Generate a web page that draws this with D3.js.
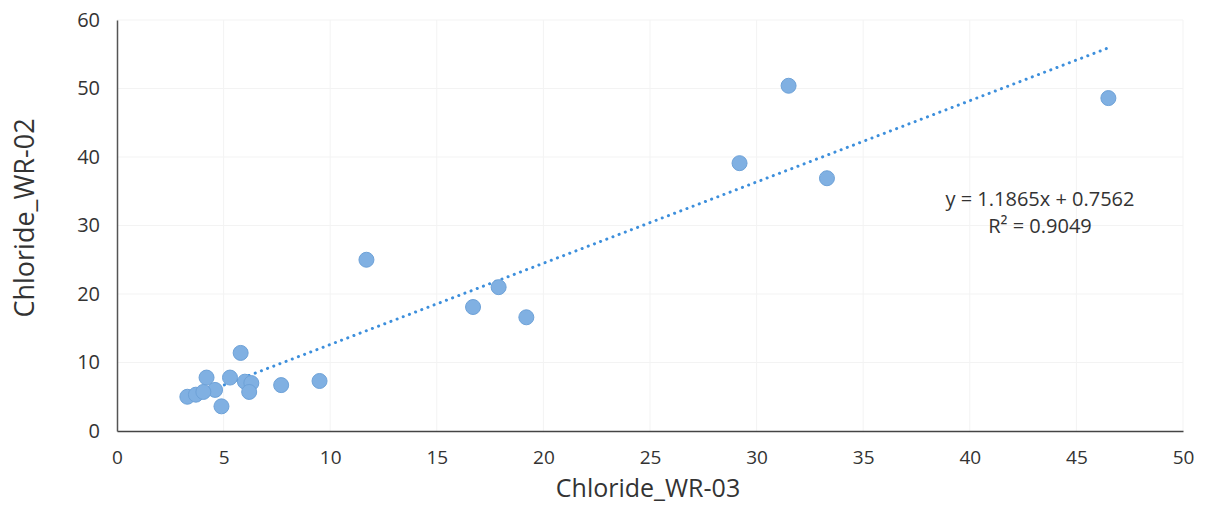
<!DOCTYPE html>
<html>
<head>
<meta charset="utf-8">
<script src="https://cdn.jsdelivr.net/npm/d3@7"></script>
<style>
  body { margin: 0; background: #fff; }
  text { font-family: "Open Sans", "Noto Sans", sans-serif; fill: #333; }
</style>
</head>
<body>
<svg id="chart" width="1209" height="508"></svg>
<script>
// Chloride WR-03 (x) vs WR-02 (y)
let xValues = [46.5, 31.5, 29.2, 33.3, 11.7, 17.9, 16.7, 19.2, 5.8, 4.2, 5.3, 6.0, 6.3, 6.2, 7.7, 9.5, 4.6, 4.9, 3.3, 3.7, 4.05]
let yValues = [48.6, 50.4, 39.1, 36.9, 25.0, 21.0, 18.1, 16.6, 11.4, 7.8, 7.8, 7.2, 7.0, 5.7, 6.7, 7.3, 6.0, 3.6, 5.0, 5.3, 5.7]
let xTicks = [0, 5, 10, 15, 20, 25, 30, 35, 40, 45, 50]
let yTicks = [0, 10, 20, 30, 40, 50, 60]
let slope = 1.1865
let intercept = 0.7562
let eqLabel = "y = 1.1865x + 0.7562"
let r2Label = "R² = 0.9049"

let svg = d3.select("#chart")
let margin = { top: 20, right: 26, bottom: 77, left: 117 }
let width = +svg.attr("width") - margin.left - margin.right
let height = +svg.attr("height") - margin.top - margin.bottom

let points = xValues.map((x, i) => ({ x: x, y: yValues[i] }))

let xScale = d3.scaleLinear().domain([0, 50]).range([0, width])
let yScale = d3.scaleLinear().domain([0, 60]).range([height, 0])

let g = svg.append("g")
    .attr("transform", "translate(" + margin.left + "," + margin.top + ")")

// faint gridlines
g.append("g")
    .selectAll("line.h")
    .data(yTicks.slice(1))
    .enter().append("line")
      .attr("x1", 0).attr("x2", width)
      .attr("y1", d => yScale(d)).attr("y2", d => yScale(d))
      .style("stroke", "#f3f3f3")
g.append("g")
    .selectAll("line.v")
    .data(xTicks.slice(1))
    .enter().append("line")
      .attr("x1", d => xScale(d)).attr("x2", d => xScale(d))
      .attr("y1", 0).attr("y2", height)
      .style("stroke", "#f3f3f3")

let xAxis = d3.axisBottom(xScale).tickValues(xTicks).tickSize(0).tickPadding(20)
let yAxis = d3.axisLeft(yScale).tickValues(yTicks).tickSize(0).tickPadding(17)

let gX = g.append("g")
    .attr("transform", "translate(0," + height + ")")
    .call(xAxis)
gX.select(".domain").style("stroke", "#444").style("stroke-width", 1.5)
gX.selectAll("text").style("font-size", "19px").style("fill", "#333")

let gY = g.append("g").call(yAxis)
gY.select(".domain").style("stroke", "#555").style("stroke-width", 1.5)
gY.selectAll("text").style("font-size", "20px").style("fill", "#333")

// trendline
let xMin = d3.min(xValues)
let xMax = d3.max(xValues)
g.append("line")
    .attr("x1", xScale(xMin)).attr("y1", yScale(slope * xMin + intercept))
    .attr("x2", xScale(xMax)).attr("y2", yScale(slope * xMax + intercept))
    .style("stroke", "#3d8fdc")
    .style("stroke-width", 3)
    .style("stroke-dasharray", "0.1,6.5")
    .style("stroke-linecap", "round")

g.selectAll("circle")
    .data(points)
    .enter().append("circle")
      .attr("cx", d => xScale(d.x))
      .attr("cy", d => yScale(d.y))
      .attr("r", 7.5)
      .style("fill", "#80b0e2")
      .style("stroke", "#6ea2d8")
      .style("stroke-width", 1)

// equation
g.append("text")
    .attr("x", 1040 - margin.left)
    .attr("y", 206 - margin.top)
    .style("text-anchor", "middle")
    .style("font-size", "20px")
    .text(eqLabel)
g.append("text")
    .attr("x", 1040 - margin.left)
    .attr("y", 233 - margin.top)
    .style("text-anchor", "middle")
    .style("font-size", "20px")
    .text(r2Label)

// axis titles
svg.append("text")
    .attr("transform", "translate(34," + 218 + ") rotate(-90)")
    .style("text-anchor", "middle")
    .style("font-size", "27px")
    .text("Chloride_WR-02")

svg.append("text")
    .attr("x", 648)
    .attr("y", 497)
    .style("text-anchor", "middle")
    .style("font-size", "25px")
    .text("Chloride_WR-03")
</script>
</body>
</html>
